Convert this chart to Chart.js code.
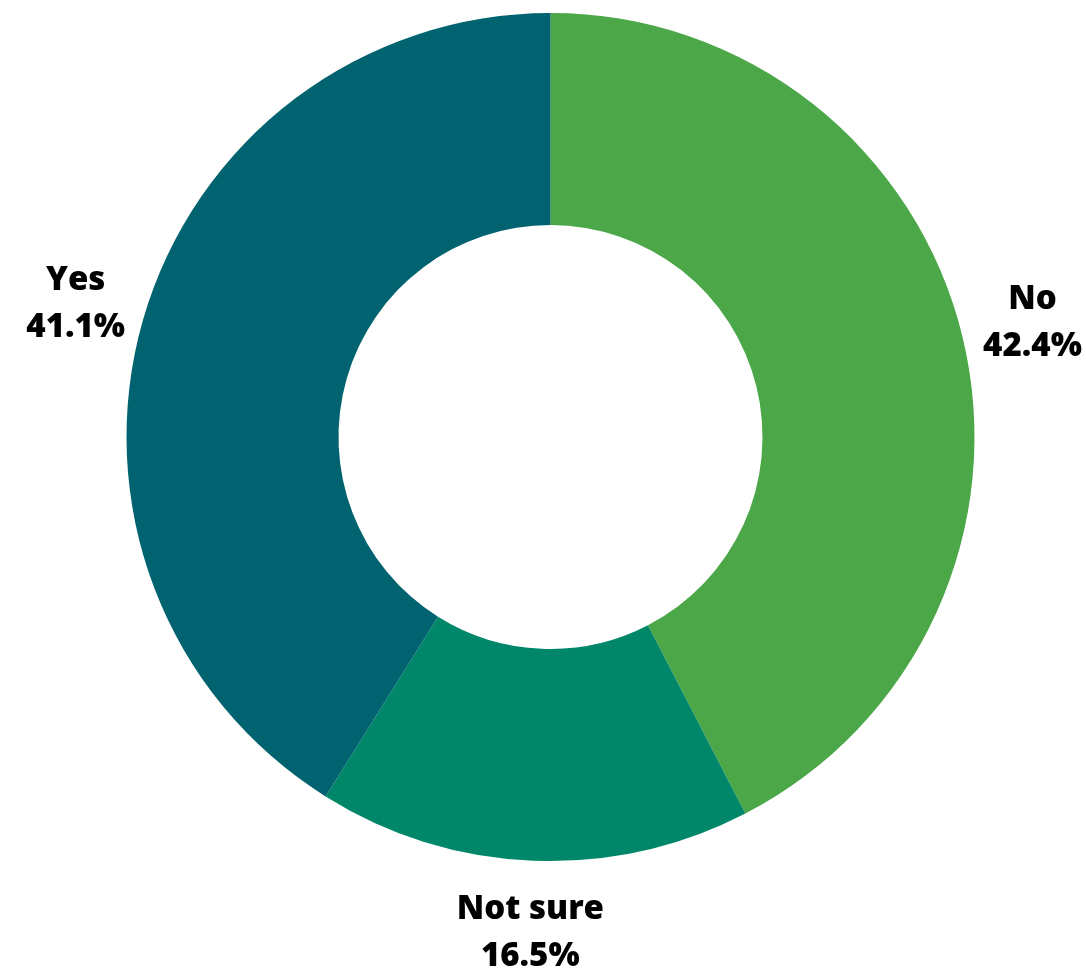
<!DOCTYPE html>
<html>
<head>
<meta charset="utf-8">
<script src="https://cdn.jsdelivr.net/npm/chart.js@4"></script>
<style>
  html, body { margin: 0; padding: 0; background: #fff; }
  #wrap { width: 1086px; height: 973px; position: relative; }
</style>
</head>
<body>
<div id="wrap"><canvas id="answerChart"></canvas></div>
<script>
const answers = ['No', 'Not sure', 'Yes'];
const shares = [42.4, 16.5, 41.1];
const sliceColors = ['#4ba747', '#00876a', '#00636f'];
// distance of each label centre from the chart centre, as a share of outer radius
const labelReach = [1.17, 1.165, 1.165];

(function() {
    const ctx = document.getElementById('answerChart');
    if (!ctx) return;

    // writes "name / value%" outside each slice
    const outsideLabels = {
        id: 'outsideLabels',
        afterDatasetsDraw(chart) {
            const c = chart.ctx;
            const meta = chart.getDatasetMeta(0);
            c.save();
            c.fillStyle = '#000';
            c.font = '800 33px "Open Sans"';
            c.textAlign = 'center';
            c.textBaseline = 'middle';
            meta.data.forEach((arc, i) => {
                const p = arc.getProps(['x', 'y', 'startAngle', 'endAngle', 'outerRadius'], true);
                const mid = (p.startAngle + p.endAngle) / 2;
                const r = p.outerRadius * labelReach[i];
                const x = p.x + Math.cos(mid) * r;
                const y = p.y + Math.sin(mid) * r + 3;
                c.fillText(answers[i], x, y - 23.5);
                c.fillText(shares[i].toFixed(1) + '%', x, y + 23.5);
            });
            c.restore();
        }
    };

    new Chart(ctx, {
        type: 'doughnut',
        data: {
            labels: answers,
            datasets: [{
                data: shares,
                backgroundColor: sliceColors,
                borderWidth: 0
            }]
        },
        options: {
            responsive: true,
            maintainAspectRatio: false,
            animation: false,
            cutout: '50%',
            layout: { padding: { left: 126, right: 111, top: 13, bottom: 112 } },
            plugins: {
                legend: { display: false },
                tooltip: { enabled: false }
            }
        },
        plugins: [outsideLabels]
    });
})();
</script>
</body>
</html>
